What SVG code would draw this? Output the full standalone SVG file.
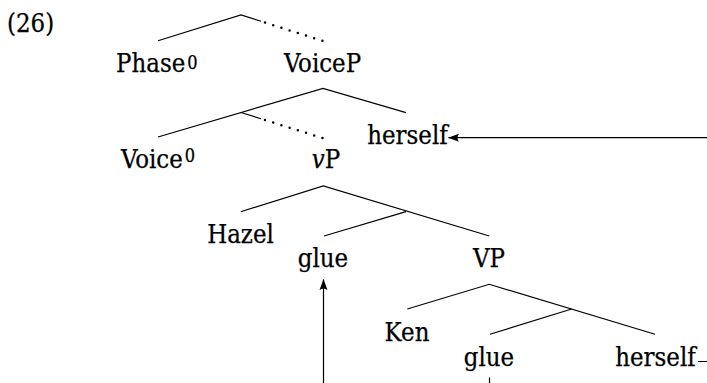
<svg xmlns="http://www.w3.org/2000/svg" width="707" height="383" viewBox="0 0 707 383">
<style>
text{font-family:"DejaVu Serif Condensed","DejaVu Serif","Liberation Serif",serif;font-stretch:condensed;font-size:25.5px;fill:#000;stroke:#000;stroke-width:0.25}
.m{text-anchor:middle}
.sup{font-size:18px}
.e{stroke:#000;stroke-width:1.2;fill:none}
.d{stroke:#000;stroke-width:2.5;fill:none;stroke-dasharray:0 8.6;stroke-linecap:round}
</style>
<defs>
<marker id="ah" viewBox="-12 -5 13 10" refX="0" refY="0" markerWidth="13" markerHeight="10" markerUnits="userSpaceOnUse" orient="auto">
<path d="M0.5,0 L-10.5,-4 Q-7.5,0 -10.5,4 Z" fill="#000"/>
</marker>
</defs>
<g id="label"><text x="7" y="32" font-size="27">(26)</text></g>
<g id="connectors">
<path class="e" d="M158,40.7 L241,15 L261,21.3"/>
<path class="d" d="M265,22.6 L322.5,40.8"/>
<path class="e" d="M158,137 L323,88.3 L406,112.7"/>
<path class="e" d="M241,112.5 L261,118.8"/>
<path class="d" d="M265,120 L322.5,138"/>
<path class="e" d="M240.7,211.7 L323.3,186 L489.3,236"/>
<path class="e" d="M406,211.7 L324,236"/>
<path class="e" d="M407.3,309 L489.3,284.3 L655,334.3"/>
<path class="e" d="M571.7,309 L490,334.3"/>
<path class="e" d="M698,361.5 H730 V137.7 H448.5" marker-end="url(#ah)"/>
<path class="e" d="M489.5,377.5 V400 H323.5 V279.5" marker-end="url(#ah)"/>
</g>
<g id="phase"><text x="116" y="72">Phase<tspan class="sup" dx="2" y="68.5">0</tspan></text></g>
<g id="voicep"><text class="m" x="322.5" y="72">VoiceP</text></g>
<g id="voice"><text x="121" y="168">Voice<tspan class="sup" dx="2" y="162">0</tspan></text></g>
<g id="vp"><text class="m" x="326" y="168"><tspan font-style="italic">v</tspan>P</text></g>
<g id="herself-top"><text class="m" x="407.5" y="144">herself</text></g>
<g id="hazel"><text class="m" x="240.5" y="243">Hazel</text></g>
<g id="glue-top"><text class="m" x="323" y="267">glue</text></g>
<g id="vp2"><text class="m" x="489" y="267">VP</text></g>
<g id="ken"><text class="m" x="407" y="341">Ken</text></g>
<g id="glue-bottom"><text class="m" x="489" y="366">glue</text></g>
<g id="herself-bottom"><text class="m" x="655.5" y="366">herself</text></g>
</svg>
